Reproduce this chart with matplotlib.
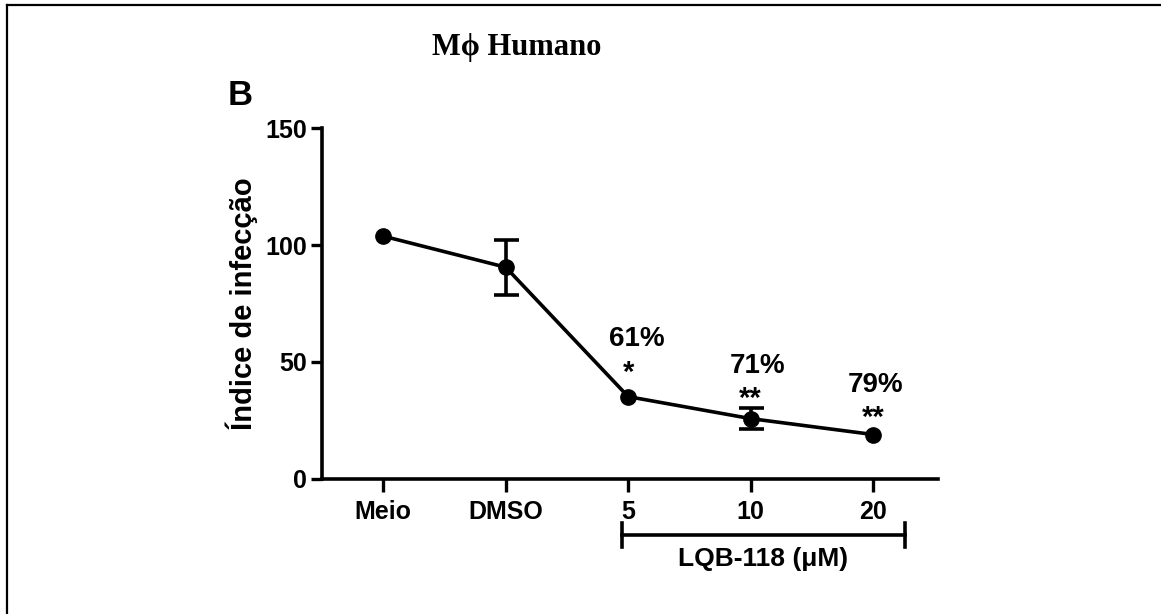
import matplotlib
matplotlib.use("Agg")
import matplotlib.pyplot as plt
from matplotlib.lines import Line2D

plt.rcParams['font.family'] = ['Liberation Sans', 'DejaVu Sans']
plt.rcParams['font.weight'] = 'bold'

# data
groups = ["Meio", "DMSO", "5", "10", "20"]
infection = [103.8, 90.5, 35.2, 25.8, 19.0]
sem = [0.0, 11.7, 0.0, 4.5, 0.0]
inhibition = ["", "", "61%", "71%", "79%"]
stars = ["", "", "*", "**", "**"]

fig = plt.figure(figsize=(11.61, 6.14), dpi=100)
ax = fig.add_axes([0.2773, 0.2199, 0.5307, 0.5716])

x = list(range(len(groups)))
ax.plot(x, infection, color='black', lw=2.6, marker='o', markersize=11,
        clip_on=False, zorder=3)
ex = [i for i in x if sem[i] > 0]
ax.errorbar(ex, [infection[i] for i in ex], yerr=[sem[i] for i in ex], fmt='none',
            ecolor='black', elinewidth=2.6, capsize=9, capthick=2.6, zorder=3)

ax.set_xlim(-0.5, 4.53)
ax.set_ylim(0, 150)
ax.set_yticks([0, 50, 100, 150])
ax.set_xticks(x)
ax.set_xticklabels(groups)
ax.tick_params(width=2.4, length=8, labelsize=18, pad=3)
ax.tick_params(axis='x', length=9, pad=6)
for side in ('top', 'right'):
    ax.spines[side].set_visible(False)
for side in ('left', 'bottom'):
    ax.spines[side].set_linewidth(2.6)

ax.set_ylabel("Índice de infecção", fontsize=21, fontweight='bold', labelpad=5)

# percent of inhibition and significance marks
pct_y = [0, 0, 59.8, 48.3, 40.2]
star_y = [0, 0, 45.5, 34.0, 26.3]
pct_dx = [0, 0, 0.07, 0.06, 0.02]
for i in x:
    if inhibition[i]:
        ax.text(i + pct_dx[i], pct_y[i], inhibition[i], ha='center', va='center',
                fontsize=20, fontweight='bold')
        ax.text(i, star_y[i], stars[i], ha='center', va='center',
                fontsize=21, fontweight='bold')

# LQB-118 bracket under the concentration ticks
tr = ax.get_xaxis_transform()
br_left, br_right = 1.95, 4.26
br_y = -0.1595
ax.add_line(Line2D([br_left, br_right], [br_y, br_y], transform=tr, color='black',
                   lw=2.6, clip_on=False))
for bx in (br_left, br_right):
    ax.add_line(Line2D([bx, bx], [br_y - 0.034, br_y + 0.034], transform=tr,
                       color='black', lw=2.6, clip_on=False))
ax.text((br_left + br_right) / 2, br_y - 0.068, "LQB-118 (μM)", transform=tr,
        ha='center', va='center', fontsize=19, fontweight='bold')

# panel letter and title
fig.text(0.196, 0.845, "B", fontsize=25, fontweight='bold', ha='left', va='center')
fig.text(0.445, 0.923, "Mϕ Humano", fontsize=22, fontweight='bold', ha='center',
         va='center', family=['Liberation Serif', 'DejaVu Serif'])

# frame around the panel
fig.add_artist(Line2D([0.006, 1.0], [0.9915, 0.9915], transform=fig.transFigure,
                      color='black', lw=1.6))
fig.add_artist(Line2D([0.006, 0.006], [0.0, 0.9915], transform=fig.transFigure,
                      color='black', lw=1.6))

fig.savefig("out.png", dpi=100)
